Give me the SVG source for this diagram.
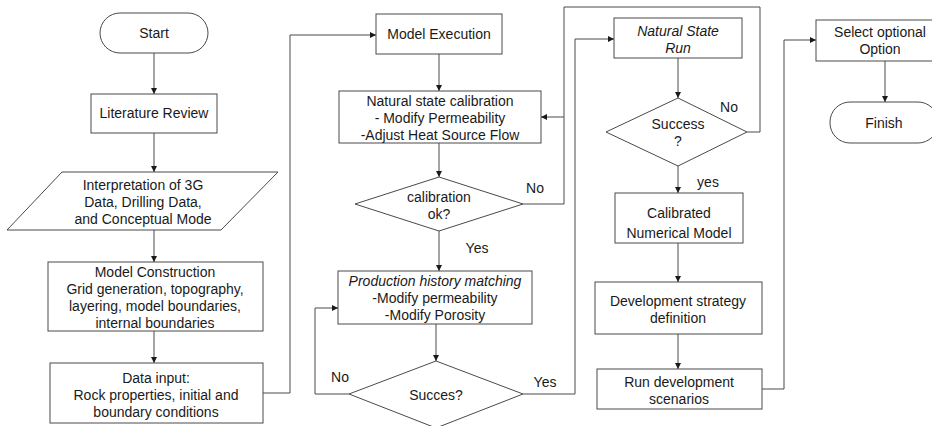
<svg xmlns="http://www.w3.org/2000/svg" width="932" height="426" viewBox="0 0 932 426">
<style>
.n{fill:#fff;stroke:#4a4a4a;stroke-width:1}
text{font-family:"Liberation Sans",Arial,sans-serif;font-size:14px;fill:#1a1a1a;text-anchor:middle}
.i{font-style:italic}
.c{fill:none;stroke:#4a4a4a;stroke-width:1}
</style>
<defs>
<marker id="a" viewBox="0 0 6 6" refX="6" refY="3" markerWidth="6" markerHeight="6" markerUnits="userSpaceOnUse" orient="auto">
<path d="M0,0 L6,3 L0,6 z" fill="#1a1a1a"/>
</marker>
</defs>
<rect width="932" height="426" fill="#fff"/>
<g id="connectors">
<path class="c" d="M154,53 V94" marker-end="url(#a)"/>
<path class="c" d="M154,133 V172" marker-end="url(#a)"/>
<path class="c" d="M154,230 V262" marker-end="url(#a)"/>
<path class="c" d="M154,331 V363" marker-end="url(#a)"/>
<path class="c" d="M263,393 H290 V35 H376" marker-end="url(#a)"/>
<path class="c" d="M439,54 V91" marker-end="url(#a)"/>
<path class="c" d="M439,143 V177" marker-end="url(#a)"/>
<path class="c" d="M523,204 H564 V117 H541" marker-end="url(#a)"/>
<path class="c" d="M747,132 H760 V7 H564 V117"/>
<path class="c" d="M439,231 V271" marker-end="url(#a)"/>
<path class="c" d="M436,324 V361" marker-end="url(#a)"/>
<path class="c" d="M349,394 H315 V308 H338" marker-end="url(#a)"/>
<path class="c" d="M523,394 H575 V39 H614" marker-end="url(#a)"/>
<path class="c" d="M678,58 V98" marker-end="url(#a)"/>
<path class="c" d="M678,166 V193" marker-end="url(#a)"/>
<path class="c" d="M678,243 V282" marker-end="url(#a)"/>
<path class="c" d="M678,334 V369" marker-end="url(#a)"/>
<path class="c" d="M762,389 H784 V40 H816" marker-end="url(#a)"/>
<path class="c" d="M885,61 V102" marker-end="url(#a)"/>
<text x="535" y="193">No</text>
<text x="477" y="253">Yes</text>
<text x="340" y="382">No</text>
<text x="545" y="387">Yes</text>
<text x="729" y="112">No</text>
<text x="708" y="187">yes</text>
</g>
<g id="start">
<rect class="n" x="100" y="13" width="108" height="40" rx="20"/>
<text x="154" y="38">Start</text>
</g>
<g id="literature">
<rect class="n" x="91" y="94" width="126" height="39"/>
<text x="154" y="118">Literature Review</text>
</g>
<g id="interpretation">
<polygon class="n" points="62,172 278,172 221,230 7,230"/>
<text x="143" y="190">Interpretation of 3G</text>
<text x="143" y="207">Data, Drilling Data,</text>
<text x="143" y="224">and Conceptual Mode</text>
</g>
<g id="construction">
<rect class="n" x="48" y="262" width="215" height="69"/>
<text x="155" y="277">Model Construction</text>
<text x="155" y="294">Grid generation, topography,</text>
<text x="155" y="311">layering, model boundaries,</text>
<text x="155" y="328">internal boundaries</text>
</g>
<g id="datainput">
<rect class="n" x="50" y="363" width="213" height="60"/>
<text x="156" y="383">Data input:</text>
<text x="156" y="400">Rock properties, initial and</text>
<text x="156" y="417">boundary conditions</text>
</g>
<g id="execution">
<rect class="n" x="376" y="14" width="126" height="40"/>
<text x="439" y="39">Model Execution</text>
</g>
<g id="nscalibration">
<rect class="n" x="339" y="91" width="202" height="52"/>
<text x="440" y="106">Natural state calibration</text>
<text x="440" y="123">- Modify Permeability</text>
<text x="440" y="140">-Adjust Heat Source Flow</text>
</g>
<g id="calibok">
<polygon class="n" points="439,177 523,204 439,231 355,204"/>
<text x="439" y="202">calibration</text>
<text x="439" y="219">ok?</text>
</g>
<g id="history">
<rect class="n" x="338" y="271" width="194" height="53"/>
<text class="i" x="435" y="286">Production history matching</text>
<text x="435" y="303">-Modify permeability</text>
<text x="435" y="320">-Modify Porosity</text>
</g>
<g id="succes">
<polygon class="n" points="436,361 523,394 436,428 349,394"/>
<text x="436" y="400">Succes?</text>
</g>
<g id="nsrun">
<rect class="n" x="614" y="18" width="128" height="40"/>
<text class="i" x="678" y="36">Natural State</text>
<text class="i" x="678" y="53">Run</text>
</g>
<g id="success">
<polygon class="n" points="678,98 747,132 678,166 606,132"/>
<text x="678" y="129">Success</text>
<text x="678" y="146">?</text>
</g>
<g id="calibrated">
<rect class="n" x="615" y="193" width="128" height="50"/>
<text x="679" y="218">Calibrated</text>
<text x="679" y="238">Numerical Model</text>
</g>
<g id="strategy">
<rect class="n" x="595" y="282" width="167" height="52"/>
<text x="678" y="306">Development strategy</text>
<text x="678" y="323">definition</text>
</g>
<g id="scenarios">
<rect class="n" x="597" y="369" width="165" height="40"/>
<text x="679" y="387">Run development</text>
<text x="679" y="404">scenarios</text>
</g>
<g id="select">
<rect class="n" x="816" y="20" width="128" height="41"/>
<text x="880" y="37">Select optional</text>
<text x="880" y="54">Option</text>
</g>
<g id="finish">
<rect class="n" x="830" y="102" width="108" height="41" rx="20"/>
<text x="884" y="128">Finish</text>
</g>
</svg>
